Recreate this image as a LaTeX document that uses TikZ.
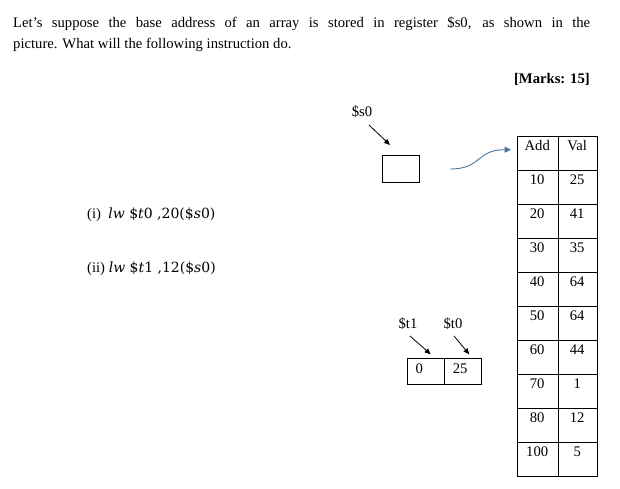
\documentclass[tikz,border=0pt]{standalone}
\usepackage{fontspec}
\setmainfont{Liberation Serif}
\newfontfamily\mathlike{DejaVu Serif}
\usetikzlibrary{arrows.meta}
\definecolor{curveblue}{RGB}{70,115,160}
\newcommand{\instr}[3]{{\mathlike\fontsize{14}{16}\selectfont\textit{lw}\ \$\textit{t}#1\ ,#2(\$\textit{s}#3)}}
\begin{document}
\begin{tikzpicture}[x=1pt,y=-1pt,
  font=\fontsize{14.67}{21.5}\selectfont,
  cell/.style={draw, line width=0.8pt, minimum height=34pt, inner sep=0pt, anchor=north west},
  regbox/.style={draw, line width=0.8pt, minimum width=37pt, inner sep=0pt, anchor=north west},
  celltext/.style={anchor=base, inner sep=0pt},
  lbl/.style={anchor=base, inner sep=0pt},
  ptr/.style={line width=0.8pt, -{Triangle[length=6pt,width=5pt]}},
  blueptr/.style={line width=0.9pt, curveblue, -{Triangle[length=6.5pt,width=6pt]}}]
\useasboundingbox (0,0) rectangle (620,489);

% question text
\node[anchor=base west, text width=577pt, align=justify, inner sep=0pt] (q) at (13,27.3)
  {Let's suppose the base address of an array is stored in register \$s0, as shown in the\linebreak
   picture. What will the following instruction do.};
\node[anchor=base east, inner sep=0pt, font=\fontsize{14.67}{17}\selectfont\bfseries] (marks) at (590,83.3) {[Marks: 15]};

% instructions
\node[anchor=base west, inner sep=0pt] (i1) at (87,218.5) {(i)\ \ \instr{0}{20}{0}};
\node[anchor=base west, inner sep=0pt] (i2) at (87,272.5) {(ii) \instr{1}{12}{0}};

% memory table
\foreach \a/\v [count=\i from 0] in {Add/Val,10/25,20/41,30/35,40/64,50/64,60/44,70/1,80/12,100/5} {
  \node[cell, minimum width=41.8pt] (a\i) at (516.5,136+34*\i) {};
  \node[cell, minimum width=38.2pt] (v\i) at (558.3,136+34*\i) {};
  \node[celltext] (ta\i) at (537.2,136+34*\i+14.5) {\a};
  \node[celltext] (tv\i) at (577.2,136+34*\i+14.5) {\v};
}

% register $s0
\node[regbox, minimum height=26.4pt] (s0) at (382.3,155.3) {};
\node[lbl] (s0l) at (362,117) {\$s0};
\coordinate (s0a) at (369,125);
\coordinate (s0b) at (390,145);
\draw[ptr] (s0a) -- (s0b);

% curved pointer to table
\coordinate (c1) at (450,169);
\coordinate (c2) at (511,149.7);
\draw[blueptr] (c1) .. controls (482,169) and (476,149.7) .. (c2);

% registers $t1, $t0
\node[regbox, minimum height=25.7pt] (t1) at (407.3,358.3) {};
\node[regbox, minimum height=25.7pt] (t0) at (444.3,358.3) {};
\node[anchor=base west, inner sep=0pt] (t1v) at (415.3,373) {0};
\node[anchor=base west, inner sep=0pt] (t0v) at (452.7,373) {25};
\node[lbl] (t1l) at (408,328) {\$t1};
\node[lbl] (t0l) at (453,328) {\$t0};
\coordinate (t1a) at (410,336);
\coordinate (t1b) at (430.7,354.3);
\coordinate (t0a) at (454,336);
\coordinate (t0b) at (469.3,354.3);
\draw[ptr] (t1a) -- (t1b);
\draw[ptr] (t0a) -- (t0b);
\end{tikzpicture}
\end{document}
